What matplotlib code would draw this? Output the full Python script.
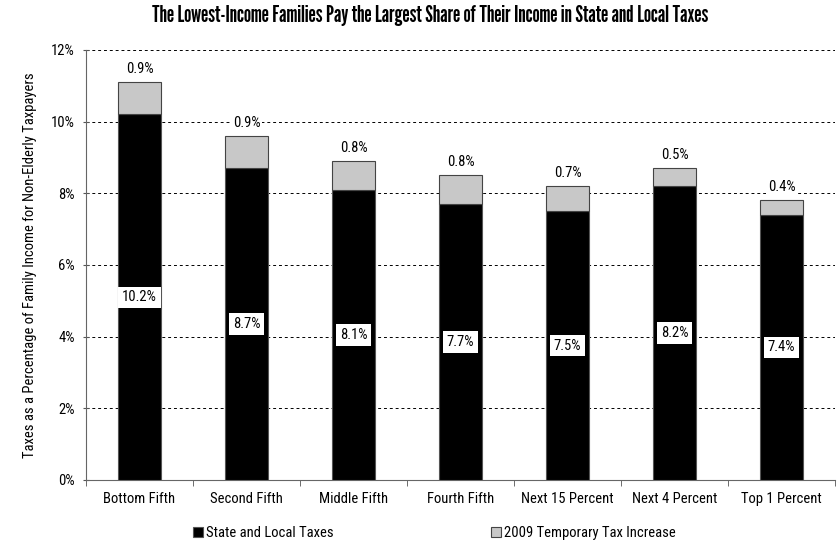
import matplotlib
matplotlib.use('Agg')
import matplotlib.pyplot as plt
import numpy as np

body = ['Roboto Condensed', 'Archivo Narrow', 'DejaVu Sans']
plt.rcParams['font.family'] = body

# Данные
categories = ['Bottom Fifth', 'Second Fifth', 'Middle Fifth', 'Fourth Fifth',
              'Next 15 Percent', 'Next 4 Percent', 'Top 1 Percent']
state_local = [10.2, 8.7, 8.1, 7.7, 7.5, 8.2, 7.4]
temp_increase = [0.9, 0.9, 0.8, 0.8, 0.7, 0.5, 0.4]

fig = plt.figure(figsize=(8.4, 5.41), dpi=100)
ax = fig.add_axes([0.1024, 0.1128, 0.8916, 0.7948])

x = np.arange(len(categories))
w = 0.41
ax.bar(x, state_local, width=w, color='black', edgecolor='#555555', linewidth=0.8,
       label='State and Local Taxes', zorder=3)
ax.bar(x, temp_increase, width=w, bottom=state_local, color='#c8c8c8',
       edgecolor='#444444', linewidth=0.8, label='2009 Temporary Tax Increase', zorder=3)

for i in range(len(categories)):
    ax.text(x[i], state_local[i] / 2, f'{state_local[i]:.1f}%', ha='center', va='center',
            fontsize=10.5, color='black', zorder=4,
            bbox=dict(boxstyle='square,pad=0.25', fc='white', ec='none'))
    ax.text(x[i], state_local[i] + temp_increase[i] + 0.17, f'{temp_increase[i]:.1f}%',
            ha='center', va='bottom', fontsize=10.5, zorder=4,
            bbox=dict(boxstyle='square,pad=0.1', fc='white', ec='none'))

ax.set_xlim(-0.5, len(categories) - 0.5)
ax.set_ylim(0, 12)
ax.set_yticks(np.arange(0, 13, 2))
ax.set_yticklabels([f'{v}%' for v in range(0, 13, 2)], fontsize=10.5)
ax.set_xticks(x)
ax.set_xticklabels(categories, fontsize=10.5)
ax.tick_params(axis='x', length=0, pad=9)
ax.set_xticks(np.arange(-0.5, len(categories), 1), minor=True)
ax.tick_params(axis='x', which='minor', length=4, color='#555555')
ax.tick_params(axis='y', length=4, color='#555555', direction='inout', pad=6)
ax.grid(axis='y', color='black', linestyle=(0, (3, 3)), linewidth=0.7, zorder=1)
for s in ['top', 'right']:
    ax.spines[s].set_visible(False)
ax.spines['left'].set_color('#666666')
ax.spines['bottom'].set_color('#666666')

ax.set_ylabel('Taxes as a Percentage of Family Income for Non-Elderly Taxpayers', fontsize=10.5,
              labelpad=10)
fig.suptitle('The Lowest-Income Families Pay the Largest Share of Their Income in State and Local Taxes',
             fontsize=16.5, x=0.512, y=0.99, family=['League Gothic', 'Pathway Gothic One', 'DejaVu Sans'])

fig.legend(loc='lower center', bbox_to_anchor=(0.517, -0.023), ncol=2, frameon=False, fontsize=10.5,
           handlelength=0.7, handleheight=0.7, handletextpad=0.2, columnspacing=10.75)

plt.savefig('out.png', dpi=100)
